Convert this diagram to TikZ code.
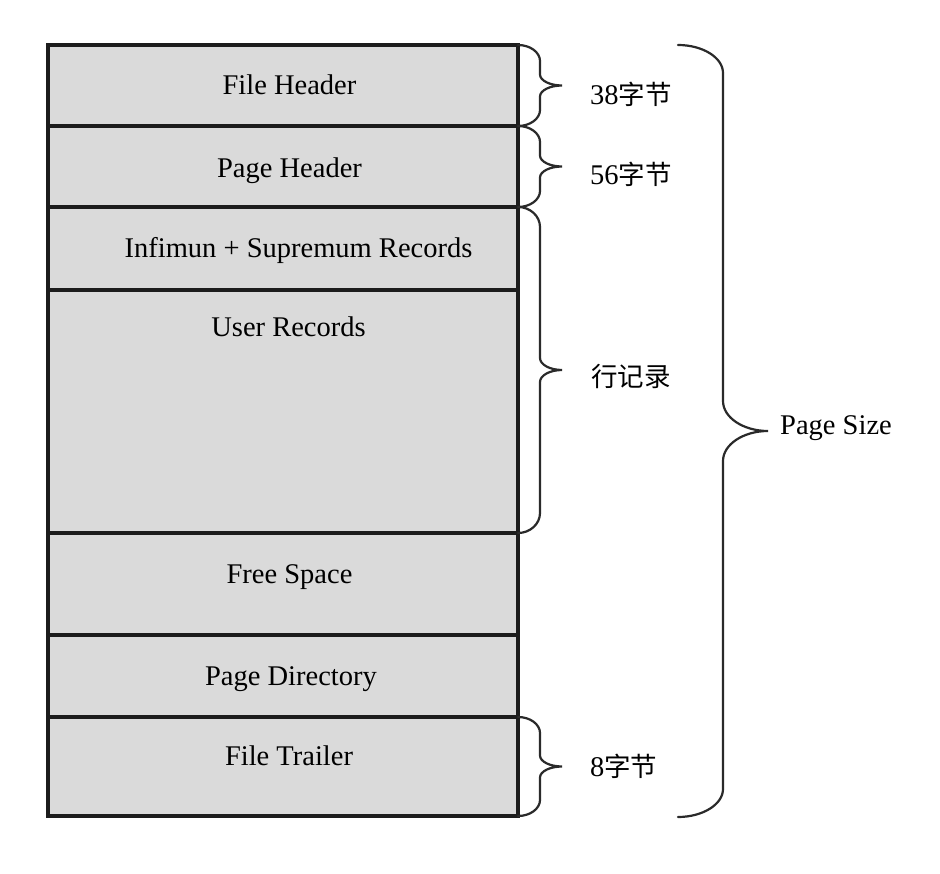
\documentclass[tikz,border=0pt]{standalone}
\usepackage{fontspec}
\setmainfont{Liberation Serif}
\newfontfamily\cjk{Noto Sans CJK SC}
\definecolor{cellgray}{HTML}{DADADA}
\definecolor{ink}{HTML}{1C1C1C}
\definecolor{braceink}{HTML}{2A2A2A}

% right-opening curly brace: start x, spine x, tip x, top y, bottom y,
% height of the end bends, height of the middle bends
% (bends are quarter ellipses built from cubic curves)
\newcommand\bracepath[7]{%
  \draw[brc] ({#1},{#4})
      .. controls ({#1+0.55*(#2-#1)},{#4}) and ({#2},{#4+0.45*#6}) .. ({#2},{#4+#6})
    -- ({#2},{(#4+#5)/2-#7})
      .. controls ({#2},{(#4+#5)/2-0.45*#7}) and ({#2+0.45*(#3-#2)},{(#4+#5)/2}) .. ({#3},{(#4+#5)/2})
      .. controls ({#2+0.45*(#3-#2)},{(#4+#5)/2}) and ({#2},{(#4+#5)/2+0.45*#7}) .. ({#2},{(#4+#5)/2+#7})
    -- ({#2},{#5-#6})
      .. controls ({#2},{#5-0.45*#6}) and ({#1+0.55*(#2-#1)},{#5}) .. ({#1},{#5});}

\begin{document}
\begin{tikzpicture}[x=1pt,y=-1pt,
  cell/.style={draw=ink, line width=3.6pt, fill=cellgray},
  celltext/.style={font=\fontsize{28.5}{34}\selectfont, anchor=base, inner sep=0pt},
  brc/.style={draw=braceink, line width=2.2pt, line cap=round},
  lbl/.style={font=\fontsize{28.5}{34}\selectfont, anchor=base west, inner sep=0pt}]

\fill[white] (0,0) rectangle (940,874);
\useasboundingbox (0,0) rectangle (940,874);

% page sections
\foreach \a/\b in {45/126,126/207,207/290,290/533,533/635,635/717,717/816}
  \draw[cell] (48,\a) rectangle (518,\b);

\node[celltext] (fh)  at (289.5,95)  {File Header};
\node[celltext] (ph)  at (289.5,178) {Page Header};
\node[celltext] (inf) at (298.5,258) {Infimun + Supremum Records};
\node[celltext] (ur)  at (288.5,337) {User Records};
\node[celltext] (fs)  at (289.5,583) {Free Space};
\node[celltext] (pd)  at (291,685)   {Page Directory};
\node[celltext] (ft)  at (289,765)   {File Trailer};

% braces
\bracepath{518}{540}{562}{45}{126}{16}{11}
\bracepath{518}{540}{562}{126}{207}{16}{11}
\bracepath{518}{540}{562}{207}{533}{20}{12}
\bracepath{518}{540}{562}{717}{816}{16}{11}
\bracepath{678}{723}{768}{45}{817}{28}{30}

% sizes
\node[lbl] (s38) at (590,105) {38{\cjk\fontsize{26.5}{30}\selectfont 字节}};
\node[lbl] (s56) at (590,185) {56{\cjk\fontsize{26.5}{30}\selectfont 字节}};
\node[lbl] (rec) at (591,387) {\cjk\fontsize{26.5}{30}\selectfont 行记录};
\node[lbl] (s8)  at (590,776) {8{\cjk\fontsize{26.5}{30}\selectfont 字节}};
\node[lbl] (ps)  at (780,435) {Page Size};
\end{tikzpicture}
\end{document}
